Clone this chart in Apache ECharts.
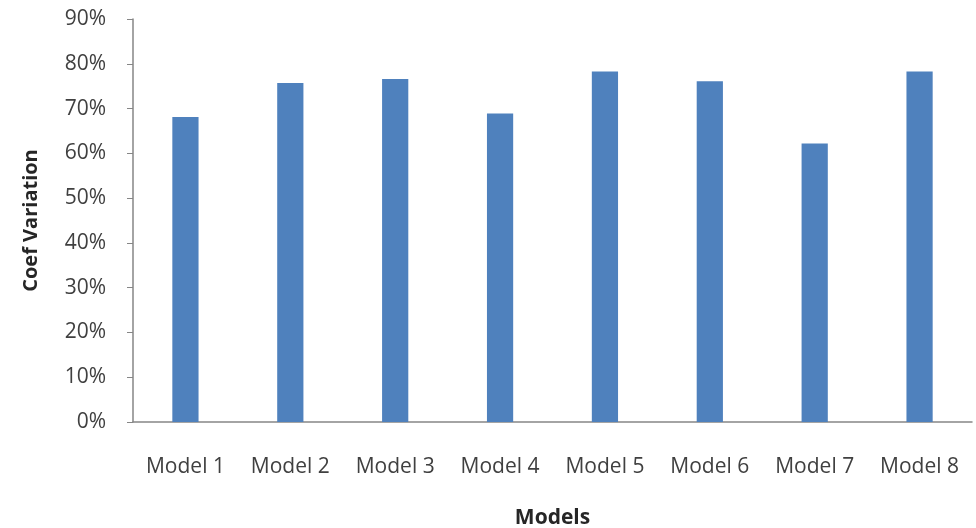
<!DOCTYPE html>
<html>
<head>
<meta charset="utf-8">
<script src="https://cdn.jsdelivr.net/npm/echarts@6/dist/echarts.min.js"></script>
<style>
  html, body { margin: 0; padding: 0; background: #fff; }
  #chart { width: 976px; height: 528px; }
</style>
</head>
<body>
<div id="chart"></div>
<script>
// Coefficient of variation per model (percent)
const categories = ['Model 1', 'Model 2', 'Model 3', 'Model 4', 'Model 5', 'Model 6', 'Model 7', 'Model 8'];
const coefVariation = [68.1, 75.7, 76.6, 68.9, 78.3, 76.1, 62.2, 78.3];
const yTicks = { min: 0, max: 90, interval: 10 };

const chart = echarts.init(document.getElementById('chart'));
const font = '"Open Sans", "DejaVu Sans", sans-serif';

chart.setOption({
  animation: false,
  backgroundColor: '#ffffff',
  grid: { left: 133, right: 4, top: 19, bottom: 106, outerBoundsMode: 'none', containLabel: false },
  xAxis: {
    type: 'category',
    data: categories,
    name: 'Models',
    nameLocation: 'middle',
    nameGap: 86,
    nameTextStyle: { fontFamily: font, fontSize: 21, fontWeight: 'bold', color: '#262626' },
    axisLine: { lineStyle: { color: '#868686', width: 1.5 } },
    axisTick: { show: false },
    axisLabel: { fontFamily: font, fontSize: 21, color: '#404040', margin: 35 }
  },
  yAxis: {
    type: 'value',
    min: yTicks.min,
    max: yTicks.max,
    interval: yTicks.interval,
    name: 'Coef Variation',
    nameLocation: 'middle',
    nameGap: 92,
    nameRotate: 90,
    nameTextStyle: { fontFamily: font, fontSize: 20, fontWeight: 'bold', color: '#262626' },
    axisLine: { show: true, lineStyle: { color: '#868686', width: 1.5 } },
    axisTick: { show: true, inside: false, length: 6, lineStyle: { color: '#868686' } },
    splitLine: { show: false },
    axisLabel: { fontFamily: font, fontSize: 21, color: '#404040', margin: 27, formatter: '{value}%' }
  },
  series: [{
    type: 'bar',
    data: coefVariation,
    barWidth: '25%',
    itemStyle: { color: '#4F81BD' }
  }]
});
</script>
</body>
</html>
